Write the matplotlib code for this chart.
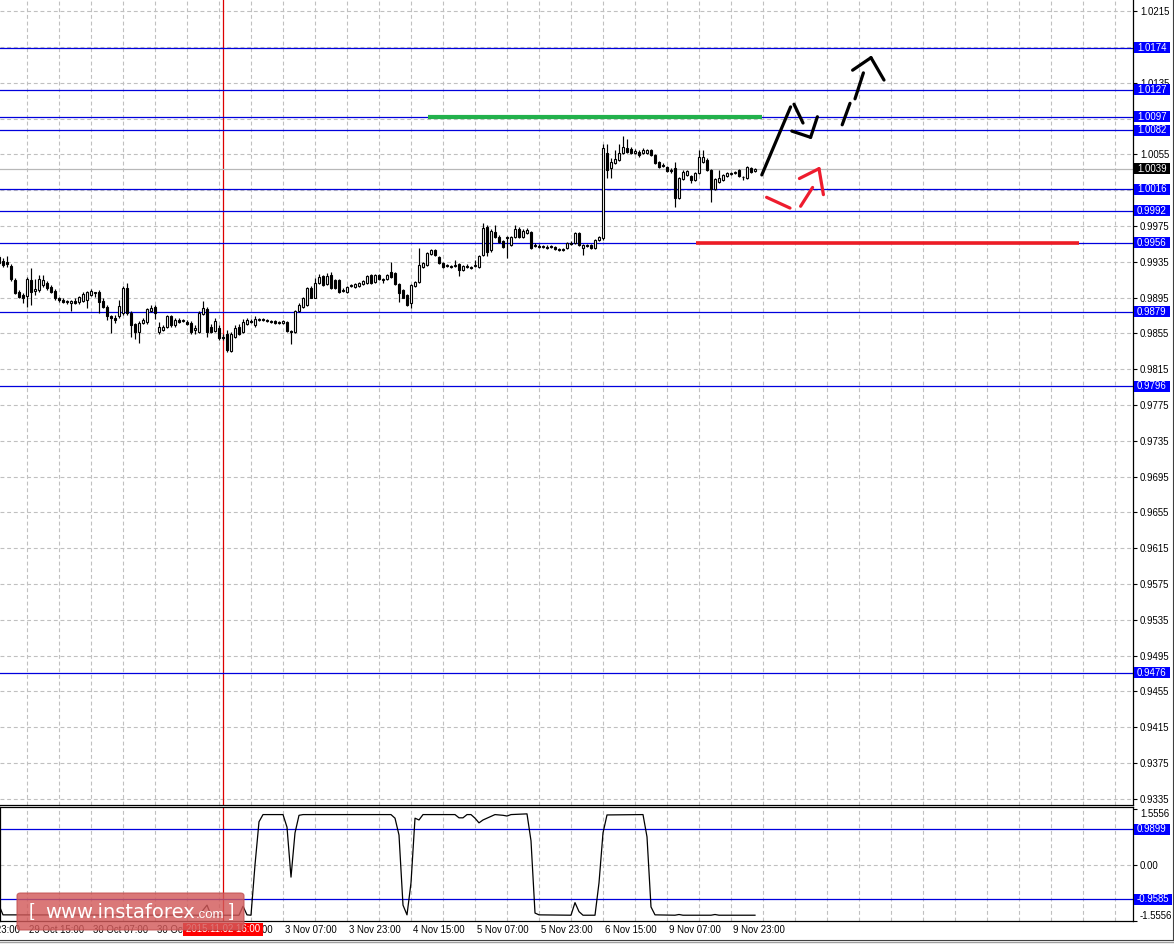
import numpy as np
import matplotlib
matplotlib.use("Agg")
import matplotlib.pyplot as plt
import matplotlib.transforms as mtransforms
from matplotlib.patches import Rectangle, FancyBboxPatch
from matplotlib.lines import Line2D

plt.rcParams['font.family'] = ['Liberation Sans', 'DejaVu Sans']

# ---- H1 candles, bar index 0..189 ----
opens = [
    0.9940, 0.9936, 0.9935, 0.9930, 0.9915, 0.9901, 0.9898, 0.9897, 0.9915, 0.9902,
    0.9904, 0.9909, 0.9911, 0.9907, 0.9902, 0.9894, 0.9892, 0.9890, 0.9889, 0.9891,
    0.9890, 0.9891, 0.9892, 0.9898, 0.9900, 0.9901, 0.9891, 0.9885, 0.9874, 0.9872,
    0.9874, 0.9878, 0.9906, 0.9878, 0.9865, 0.9857, 0.9867, 0.9868, 0.9880, 0.9885,
    0.9857, 0.9859, 0.9862, 0.9874, 0.9864, 0.9870, 0.9869, 0.9868, 0.9867, 0.9859,
    0.9856, 0.9877, 0.9882, 0.9862, 0.9858, 0.9861, 0.9851, 0.9854, 0.9835, 0.9851,
    0.9862, 0.9856, 0.9865, 0.9869, 0.9864, 0.9870, 0.9871, 0.9870, 0.9869, 0.9869,
    0.9868, 0.9867, 0.9868, 0.9858, 0.9856, 0.9880, 0.9885, 0.9887, 0.9906, 0.9895,
    0.9911, 0.9919, 0.9910, 0.9920, 0.9915, 0.9915, 0.9904, 0.9901, 0.9909, 0.9907,
    0.9908, 0.9910, 0.9911, 0.9920, 0.9912, 0.9920, 0.9916, 0.9916, 0.9924, 0.9922,
    0.9910, 0.9904, 0.9898, 0.9889, 0.9908, 0.9912, 0.9929, 0.9931, 0.9944, 0.9948,
    0.9940, 0.9934, 0.9931, 0.9930, 0.9931, 0.9932, 0.9926, 0.9930, 0.9929, 0.9930,
    0.9929, 0.9943, 0.9974, 0.9948, 0.9968, 0.9963, 0.9958, 0.9962, 0.9954, 0.9963,
    0.9972, 0.9963, 0.9967, 0.9968, 0.9954, 0.9953, 0.9952, 0.9952, 0.9953, 0.9952,
    0.9949, 0.9949, 0.9950, 0.9956, 0.9956, 0.9967, 0.9950, 0.9954, 0.9954, 0.9950,
    0.9959, 0.9962, 1.0057, 1.0040, 1.0045, 1.0049, 1.0057, 1.0062, 1.0061, 1.0057,
    1.0058, 1.0057, 1.0057, 1.0060, 1.0054, 1.0046, 1.0043, 1.0041, 1.0038, 1.0040,
    1.0006, 1.0028, 1.0032, 1.0031, 1.0026, 1.0034, 1.0046, 1.0049, 1.0038, 1.0016,
    1.0024, 1.0026, 1.0031, 1.0033, 1.0034, 1.0038, 1.0030, 1.0029, 1.0040, 1.0036,
]
highs = [
    0.9943, 0.9939, 0.9941, 0.9932, 0.9917, 0.9904, 0.9900, 0.9918, 0.9928, 0.9916,
    0.9920, 0.9920, 0.9913, 0.9909, 0.9905, 0.9896, 0.9894, 0.9892, 0.9892, 0.9894,
    0.9897, 0.9901, 0.9902, 0.9905, 0.9901, 0.9904, 0.9894, 0.9887, 0.9876, 0.9875,
    0.9892, 0.9908, 0.9911, 0.9880, 0.9867, 0.9869, 0.9872, 0.9883, 0.9887, 0.9887,
    0.9868, 0.9864, 0.9876, 0.9876, 0.9872, 0.9872, 0.9871, 0.9870, 0.9869, 0.9864,
    0.9880, 0.9891, 0.9885, 0.9865, 0.9872, 0.9864, 0.9854, 0.9859, 0.9856, 0.9864,
    0.9865, 0.9871, 0.9872, 0.9871, 0.9874, 0.9872, 0.9872, 0.9871, 0.9870, 0.9870,
    0.9869, 0.9870, 0.9869, 0.9859, 0.9881, 0.9889, 0.9896, 0.9907, 0.9908, 0.9917,
    0.9921, 0.9920, 0.9922, 0.9924, 0.9916, 0.9916, 0.9906, 0.9908, 0.9910, 0.9911,
    0.9912, 0.9915, 0.9920, 0.9921, 0.9921, 0.9921, 0.9917, 0.9921, 0.9935, 0.9924,
    0.9911, 0.9905, 0.9899, 0.9910, 0.9913, 0.9950, 0.9935, 0.9946, 0.9949, 0.9949,
    0.9941, 0.9935, 0.9932, 0.9931, 0.9937, 0.9934, 0.9931, 0.9932, 0.9930, 0.9937,
    0.9943, 0.9978, 0.9976, 0.9972, 0.9976, 0.9965, 0.9959, 0.9964, 0.9964, 0.9976,
    0.9974, 0.9972, 0.9973, 0.9969, 0.9956, 0.9955, 0.9954, 0.9954, 0.9954, 0.9953,
    0.9950, 0.9950, 0.9957, 0.9958, 0.9968, 0.9968, 0.9955, 0.9955, 0.9955, 0.9960,
    0.9964, 1.0067, 1.0067, 1.0051, 1.0060, 1.0067, 1.0075, 1.0072, 1.0063, 1.0061,
    1.0060, 1.0062, 1.0061, 1.0061, 1.0055, 1.0048, 1.0045, 1.0042, 1.0040, 1.0046,
    1.0030, 1.0038, 1.0038, 1.0032, 1.0035, 1.0060, 1.0060, 1.0051, 1.0039, 1.0029,
    1.0038, 1.0033, 1.0035, 1.0035, 1.0036, 1.0039, 1.0031, 1.0042, 1.0041, 1.0040,
]
lows = [
    0.9931, 0.9929, 0.9929, 0.9913, 0.9899, 0.9894, 0.9889, 0.9885, 0.9887, 0.9898,
    0.9901, 0.9907, 0.9904, 0.9900, 0.9892, 0.9890, 0.9889, 0.9888, 0.9880, 0.9888,
    0.9888, 0.9890, 0.9883, 0.9897, 0.9896, 0.9878, 0.9883, 0.9870, 0.9855, 0.9867,
    0.9872, 0.9876, 0.9876, 0.9851, 0.9849, 0.9844, 0.9865, 0.9866, 0.9879, 0.9871,
    0.9854, 0.9858, 0.9861, 0.9862, 0.9862, 0.9867, 0.9868, 0.9864, 0.9854, 0.9854,
    0.9855, 0.9876, 0.9851, 0.9855, 0.9857, 0.9848, 0.9848, 0.9834, 0.9834, 0.9850,
    0.9853, 0.9855, 0.9864, 0.9867, 0.9862, 0.9869, 0.9869, 0.9868, 0.9867, 0.9866,
    0.9866, 0.9866, 0.9857, 0.9843, 0.9855, 0.9879, 0.9883, 0.9886, 0.9894, 0.9894,
    0.9910, 0.9908, 0.9909, 0.9905, 0.9905, 0.9900, 0.9901, 0.9900, 0.9907, 0.9906,
    0.9907, 0.9909, 0.9910, 0.9910, 0.9911, 0.9915, 0.9911, 0.9915, 0.9917, 0.9909,
    0.9890, 0.9894, 0.9886, 0.9883, 0.9907, 0.9911, 0.9928, 0.9930, 0.9943, 0.9941,
    0.9932, 0.9928, 0.9929, 0.9928, 0.9929, 0.9919, 0.9925, 0.9928, 0.9927, 0.9929,
    0.9928, 0.9941, 0.9941, 0.9946, 0.9962, 0.9956, 0.9950, 0.9939, 0.9953, 0.9962,
    0.9962, 0.9962, 0.9966, 0.9949, 0.9952, 0.9950, 0.9950, 0.9949, 0.9950, 0.9948,
    0.9947, 0.9947, 0.9949, 0.9954, 0.9955, 0.9953, 0.9943, 0.9952, 0.9949, 0.9949,
    0.9958, 0.9959, 1.0029, 1.0029, 1.0044, 1.0048, 1.0055, 1.0057, 1.0055, 1.0055,
    1.0052, 1.0055, 1.0055, 1.0053, 1.0044, 1.0040, 1.0041, 1.0035, 1.0034, 0.9996,
    1.0005, 1.0026, 1.0031, 1.0023, 1.0025, 1.0033, 1.0045, 1.0036, 1.0002, 1.0015,
    1.0023, 1.0025, 1.0030, 1.0032, 1.0033, 1.0030, 1.0026, 1.0028, 1.0034, 1.0035,
]
closes = [
    0.9934, 0.9931, 0.9932, 0.9916, 0.9900, 0.9896, 0.9895, 0.9916, 0.9901, 0.9905,
    0.9916, 0.9915, 0.9906, 0.9901, 0.9894, 0.9892, 0.9890, 0.9891, 0.9891, 0.9889,
    0.9896, 0.9899, 0.9901, 0.9902, 0.9901, 0.9890, 0.9885, 0.9874, 0.9872, 0.9870,
    0.9886, 0.9906, 0.9878, 0.9864, 0.9857, 0.9867, 0.9870, 0.9882, 0.9883, 0.9878,
    0.9862, 0.9862, 0.9874, 0.9864, 0.9870, 0.9868, 0.9870, 0.9865, 0.9856, 0.9861,
    0.9878, 0.9883, 0.9856, 0.9856, 0.9869, 0.9850, 0.9850, 0.9836, 0.9854, 0.9861,
    0.9854, 0.9868, 0.9870, 0.9868, 0.9871, 0.9871, 0.9870, 0.9869, 0.9868, 0.9867,
    0.9867, 0.9869, 0.9858, 0.9856, 0.9880, 0.9887, 0.9895, 0.9906, 0.9895, 0.9911,
    0.9918, 0.9909, 0.9919, 0.9906, 0.9906, 0.9901, 0.9902, 0.9907, 0.9908, 0.9910,
    0.9911, 0.9913, 0.9919, 0.9911, 0.9920, 0.9916, 0.9915, 0.9920, 0.9918, 0.9910,
    0.9900, 0.9895, 0.9887, 0.9909, 0.9912, 0.9931, 0.9934, 0.9945, 0.9948, 0.9943,
    0.9934, 0.9929, 0.9930, 0.9929, 0.9930, 0.9926, 0.9930, 0.9929, 0.9928, 0.9931,
    0.9941, 0.9973, 0.9946, 0.9969, 0.9963, 0.9957, 0.9952, 0.9963, 0.9963, 0.9972,
    0.9963, 0.9969, 0.9971, 0.9950, 0.9953, 0.9952, 0.9953, 0.9950, 0.9952, 0.9949,
    0.9948, 0.9948, 0.9956, 0.9955, 0.9967, 0.9954, 0.9954, 0.9953, 0.9950, 0.9959,
    0.9963, 1.0062, 1.0038, 1.0046, 1.0050, 1.0057, 1.0063, 1.0058, 1.0057, 1.0059,
    1.0054, 1.0060, 1.0060, 1.0054, 1.0045, 1.0041, 1.0042, 1.0036, 1.0036, 1.0006,
    1.0029, 1.0035, 1.0036, 1.0026, 1.0034, 1.0052, 1.0052, 1.0038, 1.0016, 1.0028,
    1.0029, 1.0032, 1.0034, 1.0034, 1.0035, 1.0031, 1.0030, 1.0041, 1.0035, 1.0039,
]

# horizontal levels and markers
level_lines = [1.0174, 1.0127, 1.0097, 1.0082, 1.0016, 0.9992, 0.9956, 0.9879, 0.9796, 0.9476]
last_price = 1.0039
green_level = 1.0097
green_span = (107.25, 190.75)
red_level = 0.9956
red_span = (174.25, 270.0)
cursor_bar = 56

black_segments = [
    ([190.7, 197.9], [1.0032, 1.0108]),
    ([198.75, 201.0], [1.0111, 1.0090]),
    ([198.2, 202.9], [1.0081, 1.0074]),
    ([202.9, 204.6], [1.0074, 1.0097]),
    ([210.8, 212.75], [1.0088, 1.0112]),
    ([214.0, 216.1], [1.0117, 1.0146]),
    ([213.4, 218.0], [1.0149, 1.0163]),
    ([218.0, 221.25], [1.0163, 1.0138]),
]
red_segments = [
    ([191.9, 197.75], [1.0007, 0.9995]),
    ([200.4, 203.4], [0.9997, 1.0018]),
    ([200.1, 205.0], [1.0028, 1.0039]),
    ([205.0, 206.1], [1.0039, 1.0010]),
]

# indicator (lower window)
ind_bars = [0, 1, 50, 52, 53, 60, 61, 62, 63, 64, 65, 66, 71, 72, 73, 74, 75, 76, 98, 99,
            100, 101, 102, 103, 104, 105, 106, 114, 115, 116, 117, 118, 119, 120, 121, 124,
            126, 127, 128, 132, 133, 134, 135, 143, 144, 145, 146, 149, 150, 151, 152, 161,
            162, 163, 164, 169, 170, 171, 178, 179, 180, 189]
ind_vals = [-1.12, -1.39, -1.40, -1.12, -1.40, -1.40, -1.15, -1.39, -1.40, 0.0,
            1.20, 1.40, 1.40, 1.05, -0.34, 0.89, 1.38, 1.40, 1.40, 1.30,
            0.83, -1.12, -1.39, -0.50, 1.30, 1.25, 1.40, 1.40, 1.31, 1.31,
            1.40, 1.40, 1.30, 1.17, 1.25, 1.40, 1.38, 1.36, 1.40, 1.42,
            0.67, -1.34, -1.39, -1.40, -1.05, -1.30, -1.40, -1.40, -0.50, 0.89,
            1.39, 1.40, 0.78, -1.17, -1.39, -1.40, -1.38, -1.40, -1.40, -1.38,
            -1.40, -1.40]
ind_levels = [0.9899, -0.9585]

time_bars = [-9, 7, 23, 39, 55, 71, 87, 103, 119, 135, 151, 167, 183]
time_labels = ["28 Oct 23:00", "29 Oct 15:00", "30 Oct 07:00", "30 Oct 23:00", "2 Nov 15:00",
               "3 Nov 07:00", "3 Nov 23:00", "4 Nov 15:00", "5 Nov 07:00", "5 Nov 23:00",
               "6 Nov 15:00", "9 Nov 07:00", "9 Nov 23:00"]
price_ticks = [round(0.9335 + 0.004 * i, 4) for i in range(23)]
# scale labels that sit under a level tag are not shown
hidden_ticks = [1.0175, 1.0095, 1.0015]

# ---- figure ----
W, H = 1174, 944
fig = plt.figure(figsize=(W / 100, H / 100), dpi=100, facecolor='white')

def fx(px):
    return px / W

def fy(py):
    return 1 - py / H

ax = fig.add_axes([0, fy(805), fx(1133), 805 / H])
ax2 = fig.add_axes([0, fy(921), fx(1133), 114 / H])

GRID = '#C0C0C0'
BLUE = '#0000DD'
FS = 6.9
xmin, xmax = 0.25, 283.5

for a in (ax, ax2):
    a.set_xlim(xmin, xmax)
    a.set_xticks([])
    for k in range(-1, 36):
        a.axvline(7 + 8 * k, color=GRID, lw=0.8, ls=(0, (3.5, 2.5)), zorder=1)
    a.axvline(cursor_bar, color='#DD0000', lw=0.9, zorder=2)

# main window
ax.set_ylim(0.93282, 1.02274)
for p in price_ticks:
    ax.axhline(p, color=GRID, lw=0.8, ls=(0, (3.5, 2.5)), zorder=1)
for lvl in level_lines:
    ax.axhline(lvl, color=BLUE, lw=0.9, zorder=2)
ax.axhline(last_price, color='#B8B8B8', lw=0.9, zorder=2)

o = np.array(opens); c = np.array(closes)
hi = np.array(highs); lo = np.array(lows)
xb = np.arange(len(o))
up = c >= o
ax.vlines(xb, lo, hi, color='black', lw=0.85, zorder=3)
ax.bar(xb[up], c[up] - o[up], bottom=o[up], width=0.58, facecolor='white',
       edgecolor='black', linewidth=0.8, zorder=4)
ax.bar(xb[~up], c[~up] - o[~up], bottom=o[~up], width=0.58, facecolor='black',
       edgecolor='black', linewidth=0.8, zorder=4)

ax.plot(green_span, [green_level] * 2, color='#22B14C', lw=3.0, solid_capstyle='butt', zorder=5)
ax.plot(red_span, [red_level] * 2, color='#ED1C24', lw=2.6, solid_capstyle='butt', zorder=5)
for sx, sy in black_segments:
    ax.plot(sx, sy, color='black', lw=2.3, solid_capstyle='round', zorder=6)
for sx, sy in red_segments:
    ax.plot(sx, sy, color='#EE1C2E', lw=2.3, solid_capstyle='round', zorder=6)

ax.yaxis.tick_right()
ax.set_yticks(price_ticks)
ax.set_yticklabels(['' if p in hidden_ticks else f"{p:.4f}" for p in price_ticks])
ax.tick_params(axis='y', length=3, width=0.8, pad=2, labelsize=FS, direction='out')
for s in ('top', 'left'):
    ax.spines[s].set_visible(False)
for s in ('right', 'bottom'):
    ax.spines[s].set_linewidth(0.9)

# lower window
ax2.set_ylim(-1.561, 1.611)
ax2.axhline(0, color=GRID, lw=0.8, ls=(0, (3.5, 2.5)), zorder=1)
for lvl in ind_levels:
    ax2.axhline(lvl, color=BLUE, lw=0.9, zorder=2)
ax2.plot(ind_bars, ind_vals, color='black', lw=0.9, zorder=4)
ax2.yaxis.tick_right()
ax2.set_yticks([1.5556, 0, -1.5556])
ax2.set_yticklabels(['1.5556', '0.00', '-1.5556'])
ax2.tick_params(axis='y', length=3, width=0.8, pad=2, labelsize=FS, direction='out')
tl = ax2.get_yticklabels()
tl[0].set_va('top')
tl[2].set_va('bottom')
for s in ax2.spines.values():
    s.set_linewidth(0.9)


def price_tag(a, val, txt, fc, per_px, width_px=36):
    tr = mtransforms.blended_transform_factory(a.transAxes, a.transData)
    a.add_patch(Rectangle((1 + 1 / 1133, val - 5.5 * per_px), width_px / 1133, 11 * per_px,
                          transform=tr, facecolor=fc, edgecolor='none', clip_on=False, zorder=20))
    a.text(1 + 4 / 1133, val, txt, transform=tr, color='white', fontsize=FS,
           va='center', ha='left', clip_on=False, zorder=21)


per_main = (1.02274 - 0.93282) / 805
for lvl in level_lines:
    price_tag(ax, lvl, f"{lvl:.4f}", '#0000FF', per_main)
price_tag(ax, last_price, f"{last_price:.4f}", 'black', per_main)
per_low = (1.611 + 1.561) / 114
price_tag(ax2, ind_levels[0], f"{ind_levels[0]:.4f}", '#0000FF', per_low)
price_tag(ax2, ind_levels[1], f"{ind_levels[1]:.4f}", '#0000FF', per_low, width_px=38)

# time labels
ttr = mtransforms.blended_transform_factory(ax2.transData, ax2.transAxes)
for b, lab in zip(time_bars, time_labels):
    ax2.text(b + 0.5, -0.079, lab, transform=ttr, fontsize=FS, ha='left', va='center',
             clip_on=False)

fig.add_artist(Rectangle((fx(183), fy(936)), 80 / W, 13 / H, transform=fig.transFigure,
                         facecolor='#FF0000', edgecolor='none', zorder=30))
fig.text(fx(223), fy(929.5), '2015.11.02 16:00', color='white', fontsize=FS,
         ha='center', va='center', zorder=31)

# window frame
fig.add_artist(Rectangle((0, 0), 1, 3.5 / H, transform=fig.transFigure,
                         facecolor='#F0F0F0', edgecolor='none', zorder=25))
fig.add_artist(Line2D([0, fx(1173)], [fy(939.5)] * 2, color='#404040', lw=0.8, zorder=26))
fig.add_artist(Line2D([0, fx(1173)], [fy(941.5)] * 2, color='#A0A0A0', lw=0.8, zorder=26))
fig.add_artist(Line2D([fx(1172.5)] * 2, [fy(0), fy(940)], color='#404040', lw=0.8, zorder=26))

# watermark
fig.add_artist(FancyBboxPatch((fx(17), fy(930)), 227 / W, 37 / H,
                              boxstyle='round,pad=0,rounding_size=0.003',
                              transform=fig.transFigure, facecolor='#D25A5A',
                              edgecolor='#C05050', alpha=0.82, lw=0.8, zorder=40))
fig.text(fx(29), fy(911), '[', color='white', fontsize=14, ha='left', va='center', zorder=41)
fig.text(fx(45), fy(918), 'www.instaforex', color='white', fontsize=14,
         family='DejaVu Sans', ha='left', va='baseline', zorder=41)
fig.text(fx(196), fy(918), '.com', color='white', fontsize=9.5,
         family='Liberation Sans', ha='left', va='baseline', zorder=41)
fig.text(fx(229), fy(911), ']', color='white', fontsize=14, ha='left', va='center', zorder=41)

fig.savefig('out.png', dpi=100, facecolor='white')
